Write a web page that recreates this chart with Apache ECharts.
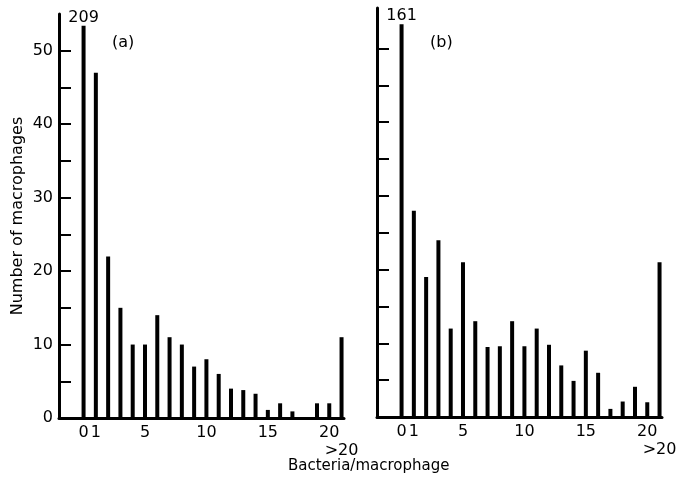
<!DOCTYPE html>
<html lang="en">
<head>
    <meta charset="UTF-8">
    <title>Bacteria per macrophage</title>
    <script src="https://cdn.jsdelivr.net/npm/echarts@6/dist/echarts.min.js"></script>
    <style>
        html, body { margin: 0; padding: 0; background: #fff; }
    </style>
</head>
<body>
    <div id="main" style="width: 681px;height: 479px;"></div>

    <script type="text/javascript">
        // bins 0..20, and 21 stands for ">20"
        var bins = [0,1,2,3,4,5,6,7,8,9,10,11,12,13,14,15,16,17,18,19,20,21];
        // panel (a), the first bar runs off the top (real value 209)
        var countsA = [53.4,47,22,15,10,10,14,11,10,7,8,6,4,3.8,3.3,1.1,2,0.9,0,2,2,11];
        // panel (b), the first bar runs off the top (real value 161)
        var countsB = [53.3,28,19,24,12,21,13,9.5,9.6,13,9.6,12,9.8,7,4.9,9,6,1.1,2.1,4.1,2,21];
        var clippedA = '209';
        var clippedB = '161';
        var xLabelValues = [0,1,5,10,15,20];
        var overflowBin = [21];
        var overflowLabel = '>20';
        var yTickValues = [0,5,10,15,20,25,30,35,40,45,50];
        var yLabelValues = [0,10,20,30,40,50];

        var font = 'DejaVu Sans';

        function barData(counts, clipped) {
            var out = [];
            for (var i = 0; i < bins.length; i++) {
                var d = { value: [bins[i], counts[i]] };
                if (i == 0) {
                    d.label = { show: true, position: 'top', distance: 0, formatter: clipped,
                        color: '#000', fontFamily: font, fontSize: 16 };
                }
                out.push(d);
            }
            return out;
        }

        function xAxisOpt(gi) {
            return {
                type: 'value', gridIndex: gi, min: -2, max: 21.2,
                axisLine: { show: true, onZero: false, lineStyle: { color: '#000', width: 3 } },
                axisTick: { show: false },
                splitLine: { show: false },
                axisLabel: {
                    customValues: xLabelValues,
                    color: '#000', fontFamily: font, fontSize: 16, margin: 7
                }
            };
        }

        // second x axis in each grid, only for the ">20" label on its own line
        function overflowAxisOpt(gi) {
            return {
                type: 'value', gridIndex: gi, min: -2, max: 21.2, position: 'bottom',
                axisLine: { show: false, onZero: false },
                axisTick: { show: false },
                splitLine: { show: false },
                axisLabel: {
                    customValues: overflowBin,
                    color: '#000', fontFamily: font, fontSize: 16, margin: 25,
                    formatter: function () { return overflowLabel; }
                }
            };
        }

        function yAxisOpt(gi, max, showLabels) {
            return {
                type: 'value', gridIndex: gi, min: 0, max: max,
                axisLine: { show: true, onZero: false, lineStyle: { color: '#000', width: 3 } },
                axisTick: { show: true, inside: true, length: 12, customValues: yTickValues,
                    lineStyle: { color: '#000', width: 2 } },
                splitLine: { show: false },
                axisLabel: { show: showLabels, customValues: yLabelValues,
                    color: '#000', fontFamily: font, fontSize: 16, margin: 6 },
                name: showLabels ? 'Number of macrophages' : '',
                nameLocation: 'middle', nameGap: 33,
                nameTextStyle: { color: '#000', fontFamily: font, fontSize: 16 }
            };
        }

        var myChart = echarts.init(document.getElementById('main'));
        var option = {
            animation: false,
            grid: [
                { left: 59, top: 14, width: 285, height: 404 },
                { left: 377, top: 8, width: 285, height: 409 }
            ],
            xAxis: [xAxisOpt(0), xAxisOpt(1), overflowAxisOpt(0), overflowAxisOpt(1)],
            yAxis: [yAxisOpt(0, 55, true), yAxisOpt(1, 55.5, false)],
            graphic: [
                { type: 'text', left: 112, top: 35, style: { text: '(a)', font: '16px ' + font, fill: '#000' } },
                { type: 'text', left: 430, top: 35, style: { text: '(b)', font: '16px ' + font, fill: '#000' } },
                { type: 'text', left: 288, top: 459, style: { text: 'Bacteria/macrophage', font: '15px ' + font, fill: '#000' } }
            ],
            series: [
                { type: 'bar', xAxisIndex: 0, yAxisIndex: 0, barWidth: 4,
                  itemStyle: { color: '#000' }, data: barData(countsA, clippedA) },
                { type: 'bar', xAxisIndex: 1, yAxisIndex: 1, barWidth: 4,
                  itemStyle: { color: '#000' }, data: barData(countsB, clippedB) }
            ]
        };
        myChart.setOption(option);
    </script>
</body>
</html>
